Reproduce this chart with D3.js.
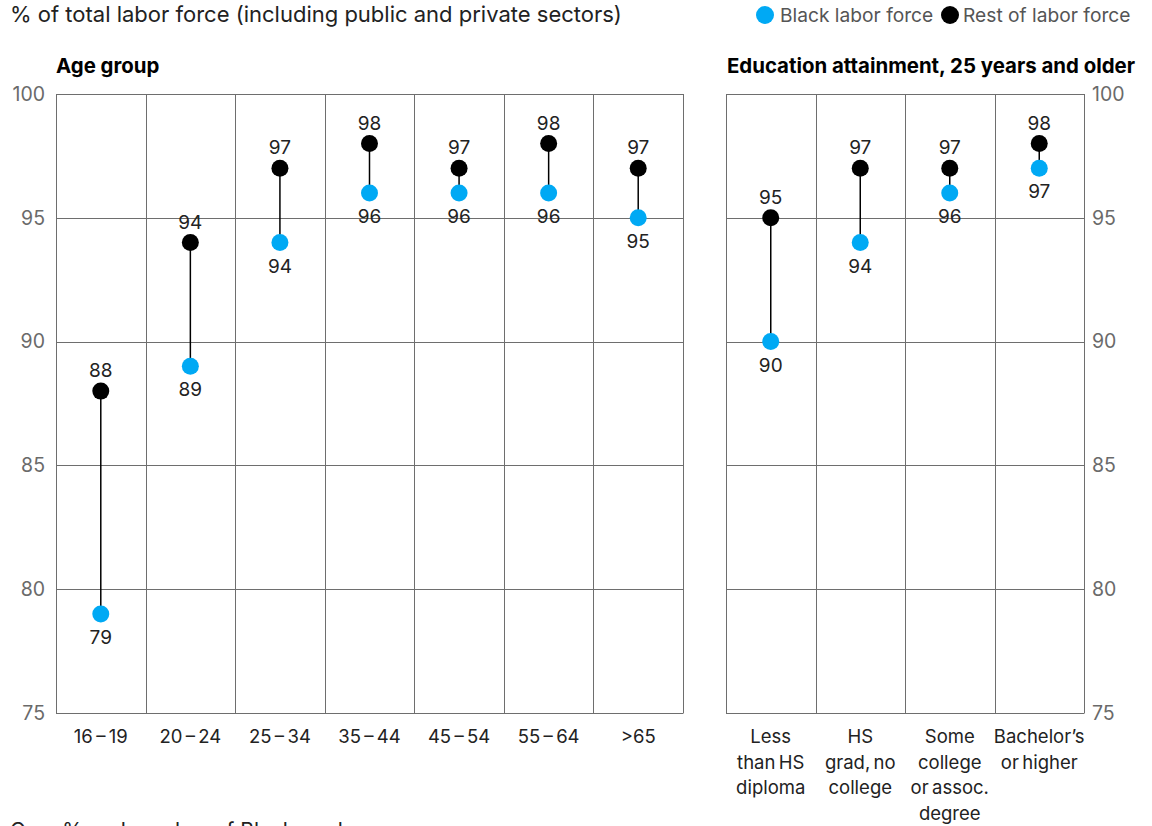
<!DOCTYPE html>
<html>
<head>
<meta charset="utf-8">
<script src="https://cdn.jsdelivr.net/npm/d3@7"></script>
<style>
  html, body { margin: 0; padding: 0; background: #fff; }
  svg { display: block; font-family: Inter, "Liberation Sans", Arial, sans-serif; }
</style>
</head>
<body>
<svg id="chart" width="1152" height="826"></svg>
<script>
// Employment share by age group and by education attainment
const ageGroups = ["16–19", "20–24", "25–34", "35–44", "45–54", "55–64", ">65"];
const ageBlack = [79, 89, 94, 96, 96, 96, 95];
const ageRest = [88, 94, 97, 98, 97, 98, 97];

const eduGroups = [
  ["Less", "than HS", "diploma"],
  ["HS", "grad, no", "college"],
  ["Some", "college", "or assoc.", "degree"],
  ["Bachelor’s", "or higher"]
];
const eduBlack = [90, 94, 96, 97];
const eduRest = [95, 97, 97, 98];

const yTicks = [75, 80, 85, 90, 95, 100];

const BLUE = "#00a9f4";
const BLACK = "#000000";
const GRID = "#6e6e6e";
const FONT = "Inter, Liberation Sans, Arial, sans-serif";

const svg = d3.select("#chart");

const y = d3.scaleLinear().domain([75, 100]).range([713, 94]);

// Title and legend
svg.append("text")
  .attr("x", 10).attr("y", 22)
  .attr("font-size", 22).attr("fill", "#222")
  .text("% of total labor force (including public and private sectors)");

const legend = [
  { label: "Black labor force", color: BLUE, cx: 765, tx: 780 },
  { label: "Rest of labor force", color: BLACK, cx: 950, tx: 963 }
];
const lg = svg.append("g");
lg.selectAll("circle").data(legend).join("circle")
  .attr("cx", d => d.cx).attr("cy", 15).attr("r", 9).attr("fill", d => d.color);
lg.selectAll("text").data(legend).join("text")
  .attr("x", d => d.tx).attr("y", 22)
  .attr("font-size", 19.2).attr("fill", "#555")
  .text(d => d.label);

function drawPanel(opts) {
  const { cats, black, rest, x0, x1, title, titleAnchor, titleX, axisSide } = opts;
  const g = svg.append("g");
  const x = d3.scaleBand().domain(d3.range(cats.length)).range([x0, x1]).paddingInner(0).paddingOuter(0);

  // panel heading
  g.append("text")
    .attr("x", titleX).attr("y", 73)
    .attr("text-anchor", titleAnchor)
    .attr("font-size", 20.4).attr("font-weight", "bold").attr("fill", "#000")
    .text(title);

  // horizontal grid lines
  g.selectAll("line.h").data(yTicks).join("line")
    .attr("class", "h")
    .attr("x1", x0).attr("x2", x1)
    .attr("y1", d => Math.round(y(d)) + 0.5).attr("y2", d => Math.round(y(d)) + 0.5)
    .attr("stroke", GRID).attr("stroke-width", 1);

  // vertical column boundaries
  const bounds = d3.range(cats.length + 1).map(i => i < cats.length ? x(i) : x1);
  g.selectAll("line.v").data(bounds).join("line")
    .attr("class", "v")
    .attr("x1", d => Math.round(d) + 0.5).attr("x2", d => Math.round(d) + 0.5)
    .attr("y1", y(100)).attr("y2", y(75) + 0.5)
    .attr("stroke", GRID).attr("stroke-width", 1);

  // y axis labels
  const axis = axisSide === "left"
    ? d3.axisLeft(y).tickValues(yTicks).tickSize(0).tickPadding(11)
    : d3.axisRight(y).tickValues(yTicks).tickSize(0).tickPadding(8);
  const ag = g.append("g")
    .attr("transform", `translate(${axisSide === "left" ? x0 : x1},0)`)
    .call(axis);
  ag.select(".domain").remove();
  ag.selectAll("text")
    .attr("font-size", 19.5).attr("fill", "#6a6a6a")
    .attr("font-family", FONT);

  // category labels (possibly multi-line)
  const cg = g.selectAll("text.cat").data(cats).join("text")
    .attr("class", "cat")
    .attr("text-anchor", "middle")
    .attr("font-size", 18.5).attr("fill", "#222")
    .attr("x", (d, i) => x(i) + x.bandwidth() / 2)
    .attr("y", 743);
  cg.each(function (d, i) {
    const lines = Array.isArray(d) ? d : [d];
    d3.select(this).selectAll("tspan").data(lines).join("tspan")
      .attr("x", x(i) + x.bandwidth() / 2)
      .attr("dy", (l, j) => j === 0 ? 0 : 25.5)
      .text(l => l.replace("–", " – ").replace(/ /g, "\u2009"));
  });

  const cx = i => x(i) + x.bandwidth() / 2;

  // connectors
  g.selectAll("line.link").data(cats).join("line")
    .attr("class", "link")
    .attr("x1", (d, i) => cx(i)).attr("x2", (d, i) => cx(i))
    .attr("y1", (d, i) => y(rest[i])).attr("y2", (d, i) => y(black[i]))
    .attr("stroke", "#000").attr("stroke-width", 1.5);

  // dots
  g.selectAll("circle.rest").data(rest).join("circle")
    .attr("class", "rest")
    .attr("cx", (d, i) => cx(i)).attr("cy", d => y(d)).attr("r", 8.5).attr("fill", BLACK);
  g.selectAll("circle.black").data(black).join("circle")
    .attr("class", "black")
    .attr("cx", (d, i) => cx(i)).attr("cy", d => y(d)).attr("r", 8.5).attr("fill", BLUE);

  // value labels: rest above, black-labor-force below
  g.selectAll("text.vrest").data(rest).join("text")
    .attr("class", "vrest")
    .attr("text-anchor", "middle").attr("font-size", 19).attr("fill", "#222")
    .attr("x", (d, i) => cx(i)).attr("y", d => y(d) - 14)
    .text(d => d);
  g.selectAll("text.vblack").data(black).join("text")
    .attr("class", "vblack")
    .attr("text-anchor", "middle").attr("font-size", 19).attr("fill", "#222")
    .attr("x", (d, i) => cx(i)).attr("y", d => y(d) + 30)
    .text(d => d);
}

drawPanel({
  cats: ageGroups, black: ageBlack, rest: ageRest,
  x0: 56, x1: 683, title: "Age group", titleAnchor: "start", titleX: 56, axisSide: "left"
});
drawPanel({
  cats: eduGroups, black: eduBlack, rest: eduRest,
  x0: 726, x1: 1084, title: "Education attainment, 25 years and older",
  titleAnchor: "end", titleX: 1135, axisSide: "right"
});

// footnote line, partly below the visible area
svg.append("text")
  .attr("x", 10).attr("y", 838)
  .attr("font-size", 21).attr("fill", "#222")
  .text("Gap, % and number of Black workers");
</script>
</body>
</html>
